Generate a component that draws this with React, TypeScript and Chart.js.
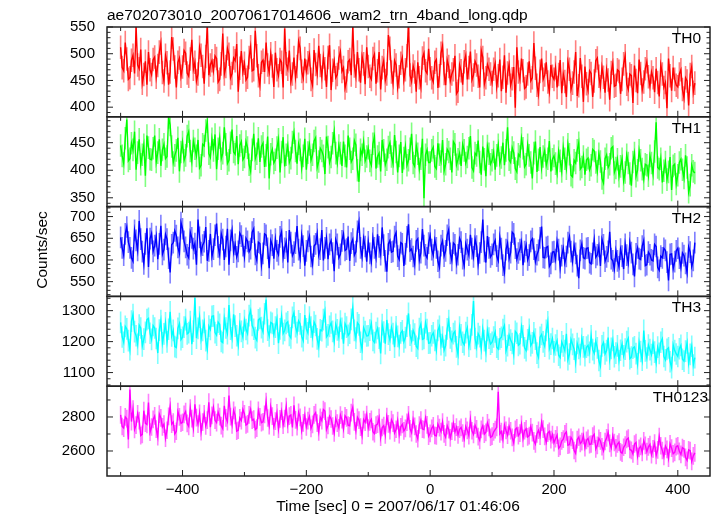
import React, { useEffect, useRef } from "react";
import { Chart, registerables } from "chart.js";

Chart.register(...registerables);

const TITLE = "ae702073010_20070617014606_wam2_trn_4band_long.qdp";
const X_LABEL = "Time [sec] 0 = 2007/06/17 01:46:06";
const Y_LABEL = "Counts/sec";

const TIME_START = -500;
const TIME_STEP = 2.5;
const X_MIN = -522;
const X_MAX = 452;
const X_TICKS = [-400, -200, 0, 200, 400];

const PANEL_NAMES = ["TH0", "TH1", "TH2", "TH3", "TH0123"];

const TH0 = [
  512,474, 468,521, 490,452, 455,488, 497,463, 551,479, 472,508, 445,461, 486,442, 503,470,
  461,489, 494,456, 478,503, 520,465, 449,497, 483,442, 466,531, 509,475, 437,484, 492,458,
  475,506, 501,464, 458,490, 526,471, 484,449, 462,512, 497,476, 444,495, 553,460, 479,487,
  468,496, 491,447, 452,481, 538,462, 476,510, 499,455, 463,492, 487,518, 429,473, 505,466,
  482,451, 456,493, 513,468, 470,543, 496,459, 441,484, 488,466, 521,479, 465,500, 477,438,
  502,470, 459,489, 484,437, 547,481, 471,506, 448,462, 493,455, 476,523, 510,467, 454,491,
  467,483, 498,452, 441,507, 480,463, 515,478, 456,494, 472,438, 493,516, 432,469, 486,455,
  461,492, 504,467, 474,436, 449,485, 489,460, 552,477, 458,503, 470,446, 495,481, 443,512,
  476,458, 452,491, 499,444, 468,503, 433,474, 487,450, 462,535, 510,466, 445,487, 479,437,
  457,482, 493,451, 470,496, 558,460, 448,477, 466,429, 484,455, 438,492, 501,468, 463,509,
  472,455, 447,484, 489,436, 459,501, 515,463, 441,488, 476,449, 462,470, 496,425, 430,479,
  468,442, 485,497, 452,474, 504,451, 460,486, 479,458, 437,506, 493,443, 455,480, 471,462,
  446,471, 482,438, 459,489, 430,456, 497,427, 464,480, 441,453, 475,399, 512,466, 452,491,
  468,435, 438,462, 486,449, 455,520, 473,441, 424,467, 491,452, 460,484, 447,429, 479,458,
  452,474, 437,461, 488,426, 462,448, 419,485, 471,433, 445,466, 503,421, 440,492, 458,410,
  476,444, 431,468, 463,419, 449,487, 492,458, 438,475, 456,427, 470,451, 414,465, 482,439,
  441,470, 467,425, 452,481, 496,443, 433,462, 459,408, 478,450, 426,489, 463,432, 447,472,
  485,457, 439,466, 455,428, 472,446, 420,479, 462,437, 446,398, 491,459, 431,474, 452,441,
  438,462, 470,433, 417,455, 449,403, 461,476, 428,445,
];

const TH1 = [
  445,426, 412,458, 492,417, 421,449, 437,470, 401,432, 456,411, 428,446, 390,463, 441,420,
  419,440, 463,415, 432,456, 408,437, 447,421, 425,496, 482,443, 414,427, 436,459, 398,433,
  451,418, 427,462, 470,435, 416,453, 439,426, 455,404, 409,447, 444,472, 488,430, 423,457,
  436,465, 402,439, 459,421, 431,478, 447,412, 418,450, 474,433, 429,462, 411,445, 452,419,
  424,452, 441,410, 398,437, 466,421, 430,458, 415,443, 449,406, 427,461, 385,429, 438,413,
  419,441, 456,396, 433,460, 407,428, 445,414, 422,451, 468,435, 412,448, 437,404, 426,457,
  401,432, 447,418, 428,453, 459,405, 416,440, 435,426, 393,461, 442,414, 424,449, 470,431,
  413,445, 431,408, 452,426, 405,463, 439,415, 421,454, 446,400, 379,437, 428,451, 417,425,
  440,417, 409,448, 461,403, 425,431, 398,455, 436,410, 419,442, 450,425, 412,464, 433,396,
  426,451, 395,422, 443,409, 418,439, 466,413, 407,445, 430,402, 421,457, 349,428, 437,414,
  414,436, 442,407, 403,449, 428,416, 455,399, 411,438, 433,421, 396,452, 447,410, 420,431,
  408,447, 436,413, 424,440, 462,405, 399,431, 427,454, 415,392, 443,420, 389,444, 430,411,
  418,433, 401,427, 446,412, 423,450, 409,436, 478,419, 414,441, 432,403, 397,429, 425,458,
  440,406, 411,446, 427,414, 385,431, 452,397, 419,442, 404,425, 436,409, 421,453, 398,420,
  426,412, 395,434, 417,398, 441,421, 403,447, 429,391, 388,418, 413,436, 450,402, 406,425,
  392,419, 422,401, 409,438, 435,414, 398,430, 416,385, 377,421, 428,405, 411,440, 443,396,
  404,420, 389,407, 421,381, 396,428, 413,394, 372,415, 431,389, 400,436, 418,402, 384,411,
  409,390, 426,413, 393,434, 487,405, 402,421, 378,399, 415,383, 397,424, 364,408, 411,375,
  391,414, 420,401, 386,427, 405,360, 373,409, 398,395,
];

const TH2 = [
  652,628, 611,660, 676,641, 628,605, 597,668, 645,622, 690,648, 619,591, 637,673, 584,649,
  661,620, 633,654, 602,637, 679,613, 624,659, 648,604, 571,635, 640,667, 656,629, 615,686,
  672,643, 629,612, 605,664, 651,626, 638,589, 693,652, 617,634, 642,676, 598,621, 660,608,
  625,657, 684,630, 612,661, 647,600, 631,672, 589,645, 668,618, 636,607, 620,662, 655,633,
  607,650, 643,619, 626,664, 672,613, 599,641, 638,588, 615,660, 657,627, 581,645, 634,603,
  648,621, 612,653, 665,606, 627,642, 594,669, 640,610, 618,639, 678,624, 604,657, 632,587,
  621,643, 655,608, 590,632, 637,660, 611,625, 669,599, 628,651, 602,636, 645,616, 574,647,
  636,605, 613,644, 660,622, 625,654, 598,639, 648,611, 619,666, 687,628, 607,650, 631,596,
  642,615, 596,651, 628,606, 659,630, 612,675, 634,598, 573,637, 645,618, 620,654, 663,609,
  601,640, 637,586, 614,653, 682,621, 625,608, 590,644, 649,600, 617,671, 633,612, 605,639,
  656,624, 611,646, 628,597, 583,633, 644,609, 621,657, 670,615, 599,639, 635,592, 612,650,
  641,603, 587,637, 624,611, 658,626, 607,648, 632,590, 616,641, 693,620, 594,655, 628,607,
  613,636, 645,609, 598,652, 626,588, 571,624, 639,603, 617,664, 660,627, 602,616, 624,641,
  588,619, 634,600, 611,643, 649,625, 596,612, 622,651, 677,606, 605,629, 631,585, 592,618,
  619,601, 643,624, 582,610, 627,593, 608,640, 654,619, 596,634, 615,587, 558,622, 637,605,
  603,627, 628,594, 591,615, 646,606, 612,631, 586,648, 635,597, 607,620, 665,603, 598,579,
  621,598, 584,625, 609,579, 636,611, 593,640, 617,590, 562,614, 628,603, 601,632, 645,587,
  589,618, 612,600, 598,636, 631,583, 576,609, 605,627, 622,595, 553,613, 614,580, 596,621,
  627,604, 583,616, 610,592, 571,630, 618,585, 599,640,
];

const TH3 = [
  1262,1215, 1198,1249, 1241,1203, 1174,1266, 1287,1232, 1219,1191, 1253,1244, 1186,1208, 1230,1271, 1275,1227,
  1207,1252, 1244,1210, 1163,1237, 1268,1196, 1225,1261, 1199,1240, 1296,1218, 1236,1184, 1181,1243, 1258,1206,
  1214,1247, 1271,1225, 1229,1265, 1192,1234, 1341,1211, 1243,1279, 1208,1236, 1262,1203, 1176,1250, 1239,1282,
  1283,1229, 1221,1263, 1256,1201, 1197,1274, 1244,1226, 1318,1240, 1212,1288, 1250,1219, 1189,1257, 1233,1214,
  1268,1239, 1226,1284, 1301,1252, 1240,1213, 1204,1270, 1275,1245, 1231,1290, 1336,1237, 1218,1262, 1259,1224,
  1247,1273, 1195,1241, 1282,1226, 1236,1259, 1264,1220, 1212,1278, 1293,1248, 1229,1267, 1257,1216, 1203,1286,
  1241,1228, 1279,1247, 1216,1263, 1252,1209, 1184,1238, 1235,1271, 1297,1215, 1222,1249, 1260,1233, 1201,1256,
  1238,1214, 1266,1243, 1193,1258, 1247,1220, 1227,1272, 1309,1236, 1211,1261, 1254,1198, 1175,1245, 1232,1218,
  1219,1237, 1258,1204, 1197,1229, 1243,1211, 1162,1255, 1231,1193, 1270,1224, 1205,1246, 1226,1182, 1248,1217,
  1187,1228, 1235,1199, 1213,1250, 1291,1221, 1202,1236, 1224,1185, 1178,1242, 1257,1207, 1210,1261, 1239,1195,
  1196,1219, 1228,1204, 1173,1236, 1249,1190, 1215,1172, 1187,1241, 1268,1212, 1201,1226, 1233,1183, 1159,1247,
  1222,1198, 1190,1229, 1245,1185, 1207,1254, 1331,1210, 1183,1226, 1216,1177, 1239,1203, 1168,1236, 1211,1192,
  1198,1215, 1231,1182, 1176,1209, 1214,1239, 1252,1170, 1187,1221, 1205,1194, 1160,1233, 1227,1188, 1193,1247,
  1219,1180, 1171,1206, 1240,1187, 1196,1228, 1208,1163, 1149,1214, 1223,1199, 1185,1236, 1264,1177, 1192,1210,
  1167,1189, 1203,1156, 1148,1199, 1186,1171, 1225,1142, 1160,1207, 1191,1176, 1134,1194, 1178,1158, 1210,1183,
  1155,1182, 1188,1165, 1219,1174, 1162,1201, 1180,1139, 1121,1186, 1197,1160, 1171,1213, 1143,1178, 1204,1151,
  1163,1186, 1139,1172, 1192,1154, 1176,1200, 1211,1145, 1150,1179, 1183,1161, 1128,1197, 1168,1140, 1236,1170,
  1147,1189, 1174,1158, 1195,1166, 1133,1182, 1162,1198, 1209,1152, 1141,1175, 1180,1135, 1116,1190, 1171,1160,
  1152,1177, 1188,1143, 1137,1169, 1196,1130, 1159,1185, 1124,1148,
];

const TH0123 = [
  2812,2744, 2735,2801, 2790,2668, 2962,2773, 2846,2727, 2752,2819, 2779,2690, 2698,2837, 2763,2756, 2885,2711,
  2741,2786, 2806,2729, 2684,2817, 2795,2742, 2758,2675, 2722,2804, 2863,2758, 2770,2701, 2716,2832, 2801,2763,
  2769,2815, 2832,2762, 2745,2853, 2790,2734, 2874,2796, 2758,2821, 2713,2770, 2819,2748, 2781,2887, 2740,2809,
  2856,2781, 2767,2828, 2802,2749, 2731,2866, 2795,2773, 2926,2802, 2754,2839, 2810,2717, 2722,2795, 2779,2844,
  2818,2753, 2760,2812, 2845,2781, 2787,2726, 2734,2839, 2801,2767, 2772,2815, 2890,2794, 2749,2858, 2805,2742,
  2776,2824, 2728,2789, 2834,2752, 2791,2861, 2757,2805, 2812,2738, 2869,2783, 2743,2827, 2798,2719, 2765,2810,
  2741,2779, 2803,2733, 2757,2812, 2826,2764, 2712,2798, 2779,2844, 2835,2726, 2750,2805, 2788,2747, 2706,2791,
  2764,2736, 2811,2784, 2729,2807, 2795,2752, 2748,2826, 2857,2771, 2720,2798, 2782,2740, 2691,2785, 2769,2814,
  2735,2771, 2786,2713, 2702,2752, 2758,2796, 2681,2738, 2749,2695, 2803,2760, 2719,2784, 2764,2706, 2728,2779,
  2696,2742, 2757,2718, 2733,2769, 2812,2731, 2708,2785, 2745,2700, 2672,2753, 2781,2729, 2726,2794, 2754,2687,
  2704,2733, 2748,2692, 2689,2758, 2737,2714, 2770,2701, 2681,2749, 2726,2677, 2716,2763, 2712,2740, 2695,2728,
  2739,2706, 2672,2744, 2721,2690, 2785,2719, 2698,2752, 2730,2684, 2663,2727, 2749,2699, 2710,2765, 2738,2681,
  2687,2712, 2726,2739, 2948,2701, 2714,2668, 2752,2721, 2693,2745, 2719,2680, 2648,2727, 2736,2690, 2705,2757,
  2674,2719, 2731,2683, 2690,2742, 2708,2660, 2641,2701, 2722,2688, 2769,2729, 2686,2652, 2705,2715, 2667,2696,
  2649,2672, 2693,2616, 2627,2659, 2670,2701, 2712,2634, 2638,2680, 2664,2603, 2586,2667, 2681,2644, 2655,2691,
  2620,2663, 2674,2638, 2641,2687, 2698,2612, 2633,2674, 2659,2625, 2601,2656, 2677,2709, 2645,2618, 2689,2650,
  2618,2641, 2652,2595, 2587,2622, 2635,2668, 2676,2609, 2604,2583, 2641,2650, 2569,2615, 2627,2592, 2660,2633,
  2596,2624, 2638,2579, 2612,2646, 2574,2607, 2685,2631, 2603,2568, 2629,2610, 2558,2642, 2617,2584, 2592,2626,
  2631,2598, 2580,2620, 2613,2562, 2545,2607, 2602,2539, 2571,2589,
];

const SERIES = [TH0, TH1, TH2, TH3, TH0123];
const ERRORS = [22, 20.5, 25, 35, 52];
const Y_RANGES = [
  [382, 550],
  [334, 497],
  [516, 723],
  [1056, 1346],
  [2453, 2981],
];
const Y_TICKS = [
  [400, 450, 500, 550],
  [350, 400, 450],
  [550, 600, 650, 700],
  [1100, 1200, 1300],
  [2600, 2800],
];
const Y_MINOR = [10, 10, 10, 20, 100];
const Y_MAJOR = [50, 50, 50, 100, 200];

const COLORS = ["#ff0000", "#00ff00", "#0000ff", "#00ffff", "#ff00ff"];
const ERR_COLORS = [
  "rgba(255,0,0,0.5)",
  "rgba(0,255,0,0.5)",
  "rgba(0,0,255,0.5)",
  "rgba(0,255,255,0.5)",
  "rgba(255,0,255,0.5)",
];
const LABEL_RIGHT = [701, 701, 701, 701, 708];

const FONT = "'Liberation Sans', Arial, Helvetica, sans-serif";
const TIMES = TH0.map((_, k) => TIME_START + k * TIME_STEP);

const fmt = (v: number) => (v < 0 ? "\u2212" + Math.abs(v) : String(v));

const panelPlugin = {
  id: "qdpPanels",
  beforeDatasetDraw(chart: any, args: any) {
    const i = args.index;
    const ys = chart.scales["y" + i];
    const xs = chart.scales.x;
    const ctx = chart.ctx;
    ctx.save();
    ctx.beginPath();
    ctx.rect(xs.left, ys.top, xs.right - xs.left, ys.bottom - ys.top);
    ctx.clip();
    ctx.strokeStyle = ERR_COLORS[i];
    ctx.lineWidth = 1.6;
    ctx.beginPath();
    SERIES[i].forEach((v, k) => {
      const px = xs.getPixelForValue(TIMES[k]);
      ctx.moveTo(px, ys.getPixelForValue(v - ERRORS[i]));
      ctx.lineTo(px, ys.getPixelForValue(v + ERRORS[i]));
    });
    ctx.stroke();
  },
  afterDatasetDraw(chart: any) {
    chart.ctx.restore();
  },
  afterDraw(chart: any) {
    const ctx = chart.ctx;
    const xs = chart.scales.x;
    ctx.save();
    ctx.strokeStyle = "#222";
    for (let i = 0; i < SERIES.length; i++) {
      const ys = chart.scales["y" + i];
      const L = xs.left, R = xs.right, T = ys.top, B = ys.bottom;
      ctx.lineWidth = 1;
      ctx.beginPath();
      const [mn, mx] = Y_RANGES[i];
      for (let v = Math.ceil(mn / Y_MINOR[i]) * Y_MINOR[i]; v <= mx; v += Y_MINOR[i]) {
        const py = ys.getPixelForValue(v);
        const len = v % Y_MAJOR[i] === 0 ? 6 : 3.5;
        ctx.moveTo(L, py); ctx.lineTo(L + len, py);
        ctx.moveTo(R, py); ctx.lineTo(R - len, py);
      }
      for (let t = -500; t <= X_MAX; t += 100) {
        const px = xs.getPixelForValue(t);
        const len = t % 200 === 0 ? 6 : 4;
        ctx.moveTo(px, T); ctx.lineTo(px, T + len);
        ctx.moveTo(px, B); ctx.lineTo(px, B - len);
      }
      ctx.stroke();
      ctx.lineWidth = 1.5;
      ctx.strokeRect(L, T, R - L, B - T);
      ctx.fillStyle = "#000";
      ctx.font = "15.5px " + FONT;
      ctx.textAlign = "right";
      ctx.textBaseline = "alphabetic";
      ctx.fillText(PANEL_NAMES[i], LABEL_RIGHT[i], T + 16);
    }
    ctx.fillStyle = "#000";
    ctx.font = "15.5px " + FONT;
    ctx.textAlign = "left";
    ctx.textBaseline = "alphabetic";
    ctx.fillText(TITLE, 107, 20);
    ctx.textAlign = "center";
    ctx.fillText(X_LABEL, 398, 511);
    ctx.translate(47, 250);
    ctx.rotate(-Math.PI / 2);
    ctx.fillText(Y_LABEL, 0, 0);
    ctx.restore();
  },
};

export default function App() {
  const ref = useRef<HTMLCanvasElement | null>(null);
  useEffect(() => {
    if (!ref.current) return;
    const scales: any = {
      x: {
        type: "linear",
        position: "bottom",
        min: X_MIN,
        max: X_MAX,
        grid: { display: false, drawTicks: false },
        border: { display: false },
        afterFit: (s: any) => { s.height = 40; },
        afterBuildTicks: (s: any) => { s.ticks = X_TICKS.map((v) => ({ value: v })); },
        ticks: {
          padding: 5,
          color: "#000",
          font: { family: FONT, size: 15 },
          maxRotation: 0,
          autoSkip: false,
          callback: (v: any) => fmt(Number(v)),
        },
      },
    };
    SERIES.forEach((_, i) => {
      scales["y" + i] = {
        type: "linear",
        position: "left",
        stack: "panels",
        stackWeight: 1,
        weight: SERIES.length - i,
        min: Y_RANGES[i][0],
        max: Y_RANGES[i][1],
        grid: { display: false, drawTicks: false },
        border: { display: false },
        afterFit: (s: any) => { s.width = 107; },
        afterBuildTicks: (s: any) => { s.ticks = Y_TICKS[i].map((v) => ({ value: v })); },
        ticks: {
          padding: 12,
          color: "#000",
          font: { family: FONT, size: 15 },
          autoSkip: false,
          callback: (v: any) => fmt(Number(v)),
        },
      };
    });
    const chart = new Chart(ref.current, {
      type: "line",
      data: {
        datasets: SERIES.map((s, i) => ({
          label: PANEL_NAMES[i],
          data: s.map((v, k) => ({ x: TIMES[k], y: v })),
          xAxisID: "x",
          yAxisID: "y" + i,
          borderColor: COLORS[i],
          borderWidth: 1.4,
          pointRadius: 0,
          tension: 0,
          fill: false,
        })),
      },
      options: {
        animation: false,
        responsive: false,
        devicePixelRatio: 1,
        layout: { padding: { top: 27, right: 7, bottom: 0, left: 0 } },
        plugins: { legend: { display: false }, tooltip: { enabled: false }, title: { display: false } },
        scales,
      } as any,
      plugins: [panelPlugin],
    });
    return () => chart.destroy();
  }, []);
  return (
    <div style={{ position: "absolute", left: 0, top: 0, width: 717, height: 516, background: "#fff" }}>
      <canvas ref={ref} width={717} height={516} />
    </div>
  );
}
